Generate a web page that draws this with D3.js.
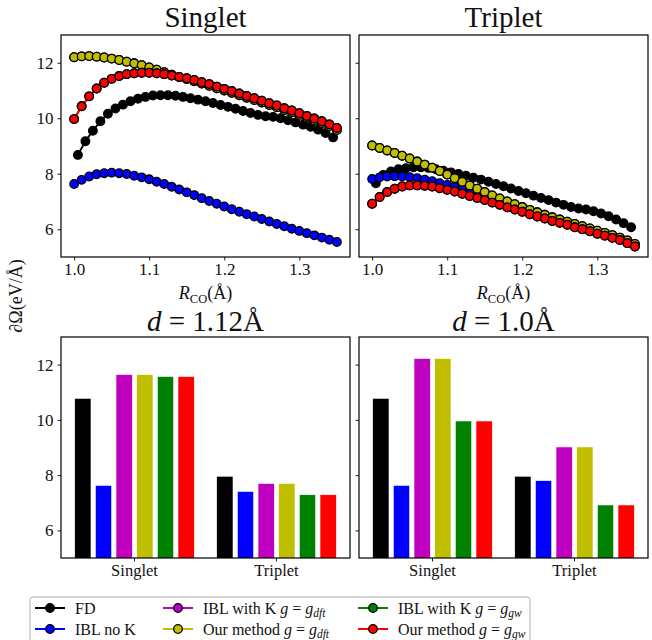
<!DOCTYPE html>
<html><head><meta charset="utf-8">
<script src="https://cdn.jsdelivr.net/npm/d3@7"></script>
<style>
body{margin:0;background:#fff}
svg{display:block}
text{font-family:"Liberation Serif","DejaVu Serif",serif;fill:#111}
</style>
</head><body>
<svg id="c" width="652" height="640"></svg>
<script>
// ---------------- DATA ----------------
const rGrid = [1.00,1.01,1.02,1.03,1.04,1.05,1.06,1.07,1.08,1.09,1.10,1.11,1.12,1.13,1.14,1.15,1.16,1.17,1.18,1.19,1.20,1.21,1.22,1.23,1.24,1.25,1.26,1.27,1.28,1.29,1.30,1.31,1.32,1.33,1.34,1.35];
const rFD = [1.005,1.015,1.025,1.035,1.045,1.055,1.065,1.075,1.085,1.095,1.105,1.115,1.125,1.135,1.145,1.155,1.165,1.175,1.185,1.195,1.205,1.215,1.225,1.235,1.245,1.255,1.265,1.275,1.285,1.295,1.305,1.315,1.325,1.335,1.345];

// Singlet
const fdSinglet = [8.68,9.17,9.55,9.89,10.16,10.35,10.49,10.61,10.70,10.77,10.82,10.83,10.83,10.81,10.77,10.72,10.67,10.61,10.55,10.48,10.41,10.34,10.26,10.19,10.12,10.07,10.05,10.00,9.93,9.85,9.77,9.69,9.59,9.47,9.31];
const iblNoKSinglet = [7.63,7.78,7.90,7.98,8.02,8.04,8.02,7.99,7.93,7.87,7.80,7.71,7.63,7.53,7.43,7.33,7.23,7.12,7.02,6.92,6.82,6.72,6.63,6.54,6.46,6.37,6.28,6.19,6.11,6.02,5.94,5.86,5.78,5.70,5.62,5.54];
const iblKdftSinglet = [12.20,12.23,12.24,12.22,12.19,12.15,12.10,12.04,11.98,11.91,11.83,11.75,11.66,11.57,11.49,11.41,11.33,11.25,11.17,11.08,11.00,10.92,10.83,10.74,10.66,10.57,10.48,10.40,10.30,10.22,10.12,10.02,9.93,9.83,9.72,9.58];
const oursDftSinglet = [12.20,12.23,12.24,12.22,12.19,12.15,12.10,12.04,11.98,11.91,11.83,11.75,11.66,11.57,11.49,11.41,11.33,11.25,11.17,11.08,11.00,10.92,10.83,10.74,10.66,10.57,10.48,10.40,10.30,10.22,10.12,10.02,9.93,9.83,9.72,9.58];
const iblKgwSinglet = [9.97,10.43,10.79,11.07,11.28,11.42,11.52,11.59,11.62,11.64,11.64,11.62,11.59,11.54,11.49,11.44,11.38,11.30,11.23,11.14,11.06,10.98,10.89,10.80,10.72,10.63,10.54,10.46,10.36,10.28,10.18,10.08,9.99,9.89,9.78,9.65];
const oursGwSinglet = [9.97,10.43,10.79,11.07,11.28,11.42,11.52,11.59,11.62,11.64,11.64,11.62,11.59,11.54,11.49,11.44,11.38,11.30,11.23,11.14,11.06,10.98,10.89,10.80,10.72,10.63,10.54,10.46,10.36,10.28,10.18,10.08,9.99,9.89,9.78,9.65];

// Triplet
const fdTriplet = [7.66,7.96,8.08,8.16,8.20,8.23,8.23,8.21,8.16,8.11,8.05,7.99,7.93,7.86,7.79,7.71,7.63,7.55,7.47,7.38,7.30,7.21,7.13,7.05,6.96,6.88,6.80,6.75,6.71,6.65,6.57,6.47,6.35,6.22,6.07];
const iblNoKTriplet = [7.81,7.87,7.90,7.91,7.90,7.88,7.84,7.79,7.73,7.66,7.60,7.53,7.45,7.37,7.28,7.19,7.10,7.01,6.92,6.83,6.74,6.65,6.56,6.48,6.39,6.31,6.23,6.15,6.07,5.99,5.91,5.83,5.75,5.66,5.56,5.43];
const iblKdftTriplet = [9.02,8.93,8.84,8.75,8.65,8.55,8.44,8.33,8.22,8.10,7.97,7.84,7.71,7.58,7.46,7.34,7.22,7.11,7.00,6.90,6.80,6.70,6.61,6.52,6.43,6.35,6.27,6.19,6.11,6.03,5.95,5.87,5.79,5.70,5.60,5.47];
const oursDftTriplet = [9.02,8.93,8.84,8.75,8.65,8.55,8.44,8.33,8.22,8.10,7.97,7.84,7.71,7.58,7.46,7.34,7.22,7.11,7.00,6.90,6.80,6.70,6.61,6.52,6.43,6.35,6.27,6.19,6.11,6.03,5.95,5.87,5.79,5.70,5.60,5.47];
const iblKgwTriplet = [6.92,7.16,7.34,7.46,7.54,7.58,7.58,7.57,7.54,7.48,7.42,7.36,7.28,7.20,7.13,7.05,6.96,6.88,6.79,6.71,6.63,6.54,6.46,6.39,6.30,6.23,6.16,6.07,6.00,5.93,5.84,5.77,5.69,5.61,5.50,5.38];
const oursGwTriplet = [6.92,7.16,7.34,7.46,7.54,7.58,7.58,7.57,7.54,7.48,7.42,7.36,7.28,7.20,7.13,7.05,6.96,6.88,6.79,6.71,6.63,6.54,6.46,6.39,6.30,6.23,6.16,6.07,6.00,5.93,5.84,5.77,5.69,5.61,5.50,5.38];

// Bar charts
const barCategories = ["Singlet","Triplet"];
const barsD112Singlet = [10.78,7.63,11.64,11.64,11.57,11.57];
const barsD112Triplet = [7.96,7.41,7.70,7.70,7.29,7.29];
const barsD10Singlet  = [10.78,7.63,12.22,12.22,9.96,9.96];
const barsD10Triplet  = [7.96,7.80,9.02,9.02,6.92,6.92];

const seriesNames = ["FD","IBL no K","IBL with K g = g_dft","Our method g = g_dft","IBL with K g = g_gw","Our method g = g_gw"];
const seriesColors = ["#000000","#0000ff","#bf00bf","#bfbf00","#008000","#ff0000"];

const xTicks = [1.0,1.1,1.2,1.3];
const yTicks = [6,8,10,12];
const yDomain = [5,13];
const xDomain = [0.9825,1.3675];

// ---------------- DRAW ----------------
const svg = d3.select("#c");
const FONT = 17;

const panels = {
  tl:{x0:61,x1:350,y0:35,y1:257},
  tr:{x0:359,x1:648,y0:35,y1:257},
  bl:{x0:61,x1:350,y0:337,y1:558},
  br:{x0:359,x1:648,y0:337,y1:558}
};

function styleAxis(g){
  g.select(".domain").remove();
  g.selectAll(".tick line").attr("stroke","#000").attr("stroke-width",0.9);
  g.selectAll(".tick text").attr("font-size",FONT).attr("font-family","Liberation Serif, serif").attr("fill","#111");
}

function yAxisFor(p, showLabels){
  const y = d3.scaleLinear().domain(yDomain).range([p.y1,p.y0]);
  const ax = d3.axisLeft(y).tickValues(yTicks).tickSize(3.5).tickPadding(4)
    .tickFormat(showLabels ? d3.format("d") : () => "");
  svg.append("g").attr("transform",`translate(${p.x0},0)`).call(ax).call(styleAxis);
  return y;
}

function frame(p){
  svg.append("rect").attr("x",p.x0).attr("y",p.y0).attr("width",p.x1-p.x0).attr("height",p.y1-p.y0)
    .attr("fill","none").attr("stroke","#000").attr("stroke-width",1.2);
}

function linePanel(p, seriesY, showYLabels){
  const x = d3.scaleLinear().domain(xDomain).range([p.x0,p.x1]);
  const y = yAxisFor(p, showYLabels);
  const xa = d3.axisBottom(x).tickValues(xTicks).tickSize(3.5).tickPadding(2.5).tickFormat(d3.format(".1f"));
  svg.append("g").attr("transform",`translate(0,${p.y1})`).call(xa).call(styleAxis);
  const line = d3.line().x(d=>x(d[0])).y(d=>y(d[1]));
  seriesY.forEach((ys,i)=>{
    const xs = i===0 ? rFD : rGrid;
    const pts = ys.map((v,k)=>[xs[k],v]);
    const g = svg.append("g");
    g.append("path").attr("d",line(pts)).attr("fill","none").attr("stroke",seriesColors[i]).attr("stroke-width",2);
    g.selectAll("circle").data(pts).join("circle")
      .attr("cx",d=>x(d[0])).attr("cy",d=>y(d[1])).attr("r",4.3)
      .attr("fill",seriesColors[i]).attr("stroke","#000").attr("stroke-width",1.3);
  });
  frame(p);
  // x label
  const t = svg.append("text").attr("x",(p.x0+p.x1)/2).attr("y",299).attr("text-anchor","middle").attr("font-size",18);
  t.append("tspan").attr("font-style","italic").text("R");
  t.append("tspan").attr("font-size",12.5).attr("dy",3.5).text("CO");
  t.append("tspan").attr("dy",-3.5).text("(Å)");
}

function barPanel(p, valsByCat, showYLabels){
  const xb = d3.scaleBand().domain(barCategories).range([p.x0,p.x1]).paddingInner(0.127).paddingOuter(0.081);
  const xi = d3.scaleBand().domain(d3.range(seriesNames.length)).range([0,xb.bandwidth()]).paddingInner(0.21).paddingOuter(0.105);
  const y = yAxisFor(p, showYLabels);
  const clipId = "clip"+p.x0+"_"+p.y0;
  svg.append("clipPath").attr("id",clipId).append("rect").attr("x",p.x0).attr("y",p.y0).attr("width",p.x1-p.x0).attr("height",p.y1-p.y0);
  const g = svg.append("g").attr("clip-path",`url(#${clipId})`);
  barCategories.forEach((c,ci)=>{
    g.selectAll(null).data(valsByCat[ci]).join("rect")
      .attr("x",(d,i)=>xb(c)+xi(i)).attr("width",xi.bandwidth())
      .attr("y",d=>y(d)).attr("height",d=>y(yDomain[0])-y(d)+2)
      .attr("fill",(d,i)=>seriesColors[i]).attr("stroke","#fff").attr("stroke-width",0.6);
  });
  const xa = d3.axisBottom(xb).tickSize(3.5).tickPadding(2.5);
  svg.append("g").attr("transform",`translate(0,${p.y1})`).call(xa).call(styleAxis);
  svg.selectAll(".tick text").filter(function(){return barCategories.includes(this.textContent);}).attr("font-size",16.5);
  frame(p);
}

linePanel(panels.tl,[fdSinglet,iblNoKSinglet,iblKdftSinglet,oursDftSinglet,iblKgwSinglet,oursGwSinglet],true);
linePanel(panels.tr,[fdTriplet,iblNoKTriplet,iblKdftTriplet,oursDftTriplet,iblKgwTriplet,oursGwTriplet],false);
barPanel(panels.bl,[barsD112Singlet,barsD112Triplet],true);
barPanel(panels.br,[barsD10Singlet,barsD10Triplet],false);

// titles
function title(p, parts, yBase){
  const t = svg.append("text").attr("x",(p.x0+p.x1)/2).attr("y",yBase).attr("text-anchor","middle").attr("font-size",29);
  parts.forEach(s=>{ const ts=t.append("tspan").text(s[0]); if(s[1]) ts.attr("font-style","italic"); });
}
title(panels.tl,[["Singlet",false]],27);
title(panels.tr,[["Triplet",false]],27);
title(panels.bl,[["d",true],[" = 1.12Å",false]],331);
title(panels.br,[["d",true],[" = 1.0Å",false]],331);

// y label
svg.append("text").attr("transform","translate(22,296) rotate(-90)").attr("text-anchor","middle")
  .attr("font-size",18).text("∂Ω(eV/Å)");

// legend
const lg = svg.append("g");
lg.append("rect").attr("x",30).attr("y",597).attr("width",500).attr("height",70).attr("rx",3)
  .attr("fill","#fff").attr("stroke","#b0b0b0").attr("stroke-width",1);
const colX = [35,163,358];
const rowY = [608,629];
seriesNames.forEach((name,i)=>{
  const cx = colX[Math.floor(i/2)], cy = rowY[i%2];
  lg.append("line").attr("x1",cx).attr("x2",cx+30).attr("y1",cy).attr("y2",cy)
    .attr("stroke",seriesColors[i]).attr("stroke-width",2);
  lg.append("circle").attr("cx",cx+15).attr("cy",cy).attr("r",4.3)
    .attr("fill",seriesColors[i]).attr("stroke","#000").attr("stroke-width",1.3);
  const t = lg.append("text").attr("x",cx+40).attr("y",cy+5.5).attr("font-size",16);
  const m = name.match(/^(.*?)g = g_(\w+)$/);
  if(m){
    t.append("tspan").text(m[1]);
    t.append("tspan").attr("font-style","italic").text("g");
    t.append("tspan").text(" = ");
    t.append("tspan").attr("font-style","italic").text("g");
    t.append("tspan").attr("font-style","italic").attr("font-size",11.5).attr("dy",3).text(m[2]);
  } else {
    t.text(name);
  }
});
</script>
</body></html>
